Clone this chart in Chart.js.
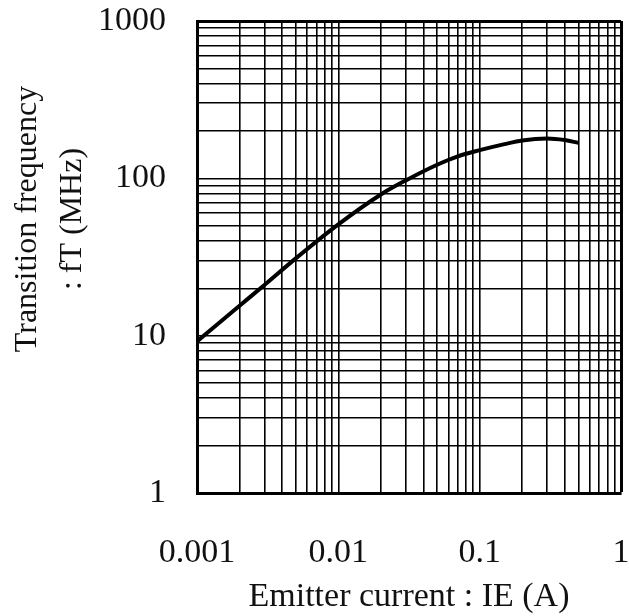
<!DOCTYPE html>
<html>
<head>
<meta charset="utf-8">
<script src="https://cdn.jsdelivr.net/npm/chart.js@4"></script>
<style>
  body { margin: 0; background: #fff; }
  #wrap { width: 629px; height: 616px; position: relative; }
</style>
</head>
<body>
<div id="wrap"><canvas id="chart"></canvas></div>
<script>
// data (emitter current in A, fT in MHz)
const emitterCurrent = [0.001, 0.002, 0.003, 0.005, 0.01, 0.02, 0.03, 0.05, 0.07, 0.1, 0.15, 0.2, 0.3, 0.4, 0.5];
const transitionFreq = [9.2, 15.5, 21, 31, 51, 79, 97, 122, 138, 151, 165, 174, 179, 175, 168];

const xTickLabels = [0.001, 0.01, 0.1, 1];
const yTickLabels = [1, 10, 100, 1000];
const gridSteps = [1, 2, 3, 4, 5, 6, 7, 8, 9];

const serif = "'Liberation Serif', 'Times New Roman', serif";
const textColor = '#111';

// log grid: every 1..9 step inside each decade
function logTicks(decades) {
    let list = [];
    for (let i = 0; i < decades.length - 1; i++) {
        gridSteps.forEach(k => list.push({ value: decades[i] * k }));
    }
    list.push({ value: decades[decades.length - 1] });
    return list;
}

function labelOnly(decades) {
    return function (value) {
        return decades.indexOf(value) >= 0 ? String(value) : '';
    };
}

// draw y title as two rotated lines
const yTitlePlugin = {
    id: 'yTitle',
    afterDraw(chart) {
        const ctx = chart.ctx;
        ctx.save();
        ctx.fillStyle = textColor;
        ctx.font = '32px ' + serif;
        ctx.textAlign = 'center';
        ctx.textBaseline = 'middle';
        ctx.translate(28, 219);
        ctx.rotate(-Math.PI / 2);
        ctx.fillText('Transition frequency', 0, 0);
        ctx.fillText(': fT (MHz)', 0, 45);
        ctx.restore();
    }
};

const data = {
    labels: emitterCurrent,
    datasets: [{
        data: emitterCurrent.map((x, i) => ({ x: x, y: transitionFreq[i] })),
        borderColor: '#000',
        borderWidth: 4,
        pointRadius: 0,
        fill: false,
        cubicInterpolationMode: 'monotone'
    }]
};

const options = {
    responsive: true,
    maintainAspectRatio: false,
    animation: false,
    layout: { padding: { top: 21, right: 8, left: 0, bottom: 0 } },
    plugins: { legend: { display: false }, tooltip: { enabled: false } },
    scales: {
        x: {
            type: 'logarithmic',
            min: 0.001,
            max: 1,
            afterBuildTicks: scale => { scale.ticks = logTicks(xTickLabels); },
            afterFit: scale => {
                scale.height = 123;
                scale.paddingLeft = 0;
                scale.paddingRight = 0;
            },
            grid: {
                color: '#000',
                lineWidth: c => (c.tick && c.tick.value === 1) ? 3 : 1.6,
                drawTicks: false
            },
            border: { display: true, color: '#000', width: 3 },
            ticks: {
                autoSkip: false,
                maxRotation: 0,
                padding: 40,
                color: textColor,
                font: { family: serif, size: 34 },
                callback: labelOnly(xTickLabels)
            },
            title: {
                display: true,
                text: 'Emitter current : IE (A)',
                color: textColor,
                font: { family: serif, size: 34, lineHeight: 1.1 },
                padding: { top: 0, bottom: 0 }
            }
        },
        y: {
            type: 'logarithmic',
            min: 1,
            max: 1000,
            afterBuildTicks: scale => { scale.ticks = logTicks(yTickLabels); },
            afterFit: scale => {
                scale.width = 197;
                scale.paddingTop = 0;
                scale.paddingBottom = 0;
            },
            grid: {
                color: '#000',
                lineWidth: c => (c.tick && c.tick.value === 1000) ? 3 : 1.6,
                drawTicks: false
            },
            border: { display: true, color: '#000', width: 3 },
            ticks: {
                autoSkip: false,
                padding: 31,
                color: textColor,
                font: { family: serif, size: 34 },
                callback: labelOnly(yTickLabels)
            }
        }
    }
};

new Chart('chart', {
    type: 'line',
    data: data,
    options: options,
    plugins: [yTitlePlugin]
});
</script>
</body>
</html>
